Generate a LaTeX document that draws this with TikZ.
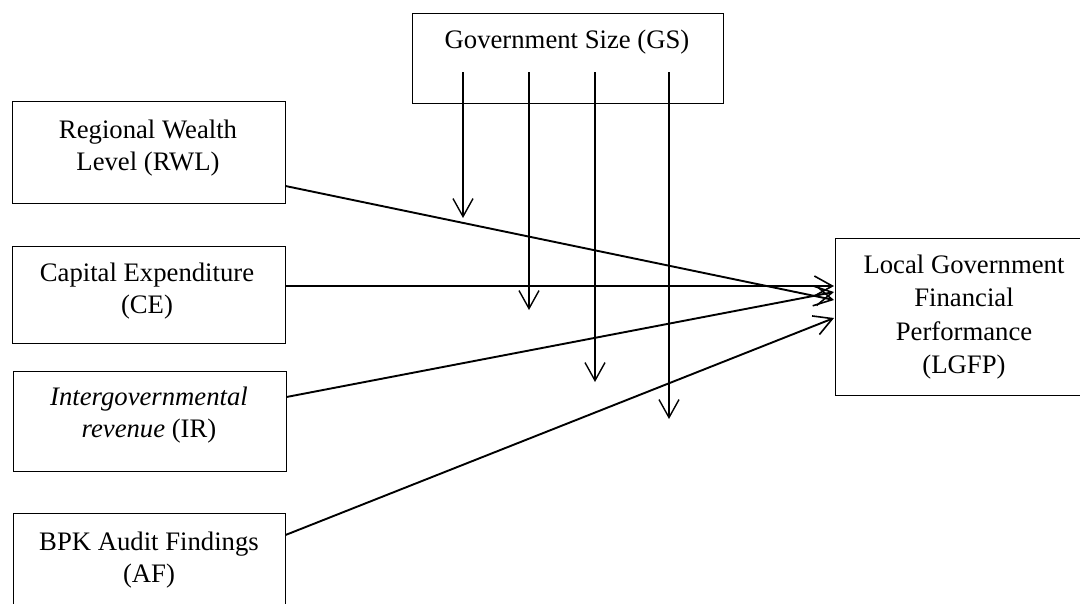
\documentclass[tikz,border=0pt]{standalone}
\usepackage{fontspec}
\setmainfont{Liberation Serif}
\usetikzlibrary{arrows.meta}
\begin{document}
\begin{tikzpicture}[x=1pt,y=-1pt,
  box/.style={draw=black,line width=1.3pt,rectangle,inner sep=0pt,anchor=north west},
  txt/.style={align=center,inner sep=0pt,font=\fontsize{26.7}{32.5}\selectfont},
  link/.style={line width=1.9pt,-{Straight Barb[length=18pt,width=20pt,line width=1.6pt]}},
  mod/.style={line width=1.4pt,-{Straight Barb[length=18pt,width=20pt,line width=1.4pt]}}]
\clip (0,0) rectangle (1080,603);
\fill[white] (0,0) rectangle (1080,603);
% boxes
\node[box,minimum width=311pt,minimum height=90pt] (gs) at (412,13) {};
\node[box,minimum width=273pt,minimum height=102pt] (rwl) at (12,101) {};
\node[box,minimum width=273pt,minimum height=97pt] (ce) at (12,246) {};
\node[box,minimum width=273pt,minimum height=100pt] (ir) at (13,371) {};
\node[box,minimum width=272pt,minimum height=110pt] (af) at (13,513) {};
\node[box,minimum width=260pt,minimum height=157pt] (lgfp) at (835,238) {};
% texts
\node[txt] (gst) at (567,42) {Government Size (GS)};
\node[txt] (rwlt) at (148,148) {Regional Wealth\\Level (RWL)};
\node[txt] (cet) at (147,291) {Capital Expenditure\\(CE)};
\node[txt] (irt) at (149,415) {\textit{Intergovernmental}\\\textit{revenue} (IR)};
\node[txt] (aft) at (149,560) {BPK Audit Findings\\(AF)};
\node[txt,font=\fontsize{26.7}{33.5}\selectfont] (lgfpt) at (964,317) {Local Government\\Financial\\Performance\\(LGFP)};
% moderator arrows
\coordinate (g1) at (463,72); \coordinate (t1) at (463,218);
\coordinate (g2) at (529,72); \coordinate (t2) at (529,310);
\coordinate (g3) at (595,72); \coordinate (t3) at (595,382);
\coordinate (g4) at (669,72); \coordinate (t4) at (669,419);
\draw[mod] (g1) -- (t1);
\draw[mod] (g2) -- (t2);
\draw[mod] (g3) -- (t3);
\draw[mod] (g4) -- (t4);
% main arrows
\coordinate (s1) at (285.5,186); \coordinate (e1) at (834,300);
\coordinate (s2) at (285.5,286); \coordinate (e2) at (834,286);
\coordinate (s3) at (286.5,397); \coordinate (e3) at (834,292);
\coordinate (s4) at (285.5,535); \coordinate (e4) at (834,318);
\draw[link] (s1) -- (e1);
\draw[link] (s2) -- (e2);
\draw[link] (s3) -- (e3);
\draw[link] (s4) -- (e4);
\end{tikzpicture}
\end{document}
